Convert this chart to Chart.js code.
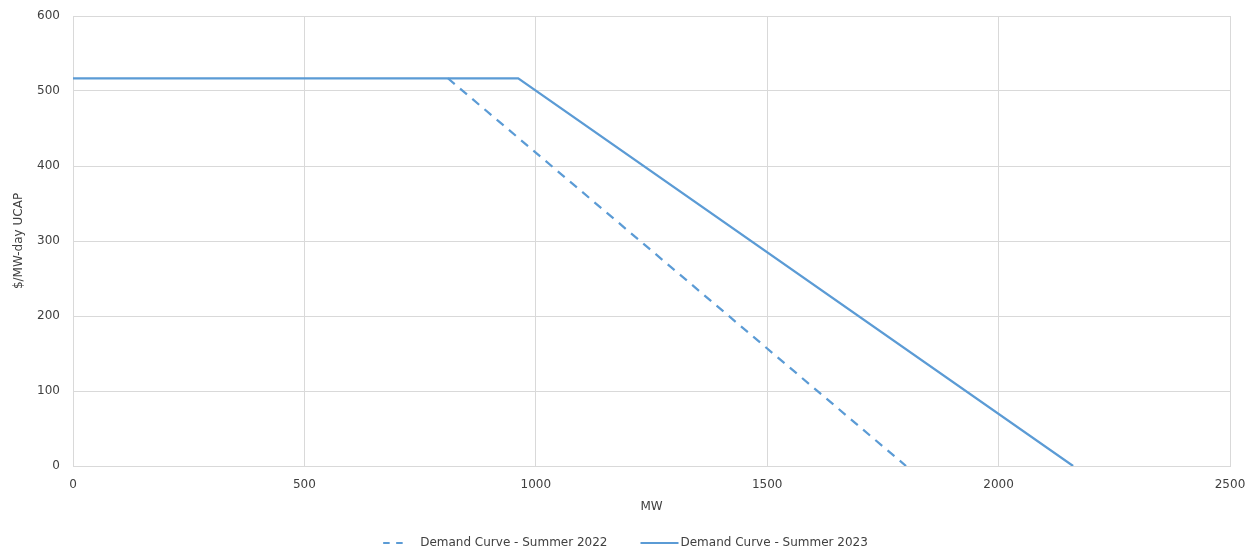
<!DOCTYPE html>
<html>
<head>
<meta charset="utf-8">
<style>
  html, body { margin: 0; padding: 0; background: #fff; }
  #wrap { width: 1253px; height: 553px; }
</style>
<script src="https://cdn.jsdelivr.net/npm/chart.js@4"></script>
</head>
<body>
<div id="wrap"><canvas id="demandChart"></canvas></div>
<script>
// Demand curve points (MW, $/MW-day)
const summer2022MW = [0, 810, 1800];
const summer2022Price = [517, 517, 0];
const summer2023MW = [0, 962, 2161];
const summer2023Price = [517, 517, 0];

const xTicks = [0, 500, 1000, 1500, 2000, 2500];
const yTicks = [0, 100, 200, 300, 400, 500, 600];

const lineColor = '#5b9bd5';
const textColor = '#404040';
const gridColor = '#d9d9d9';
const fontFamily = '"DejaVu Sans", Verdana, sans-serif';

function toPoints(xs, ys) {
    return xs.map((x, i) => ({ x: x, y: ys[i] }));
}

// Legend drawn by hand so the dashed sample shows its dashes
const bottomLegend = {
    id: 'bottomLegend',
    afterDraw(chart) {
        const c = chart.ctx;
        const y = 543;
        c.save();
        c.font = '12px ' + fontFamily;
        c.textBaseline = 'middle';
        c.fillStyle = textColor;
        const items = chart.data.datasets.map(ds => ({
            text: ds.label,
            dash: ds.borderDash || [],
            lineLen: ds.borderDash ? 20 : 38,
            gap: ds.borderDash ? 17 : 2
        }));
        const spacing = 33;
        let total = 0;
        items.forEach((it, i) => {
            it.w = c.measureText(it.text).width;
            total += it.lineLen + it.gap + it.w + (i ? spacing : 0);
        });
        let x = chart.width / 2 - total / 2 - 1;
        items.forEach((it, i) => {
            if (i) x += spacing;
            c.beginPath();
            c.strokeStyle = lineColor;
            c.lineWidth = 2;
            c.setLineDash(it.dash.length ? [6.5, 6.5] : []);
            c.moveTo(x, y);
            c.lineTo(x + it.lineLen, y);
            c.stroke();
            x += it.lineLen + it.gap;
            c.fillText(it.text, x, y);
            x += it.w;
        });
        c.restore();
    }
};

document.addEventListener('DOMContentLoaded', function() {
    const ctx = document.getElementById('demandChart').getContext('2d');
    Chart.defaults.font.family = fontFamily;
    Chart.defaults.font.size = 12;
    Chart.defaults.color = textColor;

    new Chart(ctx, {
        type: 'scatter',
        data: {
            datasets: [{
                label: 'Demand Curve - Summer 2022',
                data: toPoints(summer2022MW, summer2022Price),
                showLine: true,
                borderColor: lineColor,
                backgroundColor: 'rgba(0,0,0,0)',
                borderWidth: 2.25,
                borderDash: [9, 7],
                pointRadius: 0,
                order: 1,
                // flat part lies under the 2023 line, keep it hidden like the original
                segment: {
                    borderColor: c => c.p0DataIndex === 0 ? 'rgba(0,0,0,0)' : undefined
                }
            }, {
                label: 'Demand Curve - Summer 2023',
                data: toPoints(summer2023MW, summer2023Price),
                showLine: true,
                borderColor: lineColor,
                backgroundColor: 'rgba(0,0,0,0)',
                borderWidth: 2.25,
                pointRadius: 0,
                order: 0
            }]
        },
        plugins: [bottomLegend],
        options: {
            responsive: true,
            maintainAspectRatio: false,
            animation: false,
            layout: { padding: { top: 16, right: 23, left: 0, bottom: 29 } },
            plugins: {
                legend: { display: false },
                tooltip: { enabled: false }
            },
            scales: {
                x: {
                    type: 'linear',
                    min: xTicks[0],
                    max: xTicks[xTicks.length - 1],
                    afterBuildTicks: function(scale) {
                        scale.ticks = xTicks.map(v => ({ value: v }));
                    },
                    grid: { color: gridColor, drawTicks: false },
                    border: { color: gridColor },
                    ticks: { padding: 12, color: textColor, callback: v => String(v) },
                    title: { display: true, text: 'MW', color: textColor, padding: { top: 6, bottom: 10 } },
                    afterFit: function(scale) {
                        scale.height = 58;
                        scale.paddingLeft = 0;
                        scale.paddingRight = 0;
                    }
                },
                y: {
                    type: 'linear',
                    min: yTicks[0],
                    max: yTicks[yTicks.length - 1],
                    afterBuildTicks: function(scale) {
                        scale.ticks = yTicks.map(v => ({ value: v }));
                    },
                    grid: { color: gridColor, drawTicks: false },
                    border: { color: gridColor },
                    ticks: { padding: 13, color: textColor, callback: v => String(v) },
                    title: { display: true, text: '$/MW-day UCAP', color: textColor, padding: { top: 12, bottom: 4 } },
                    afterFit: function(scale) {
                        scale.width = 73;
                        scale.paddingTop = 0;
                        scale.paddingBottom = 0;
                    }
                }
            }
        }
    });
});
</script>
</body>
</html>
